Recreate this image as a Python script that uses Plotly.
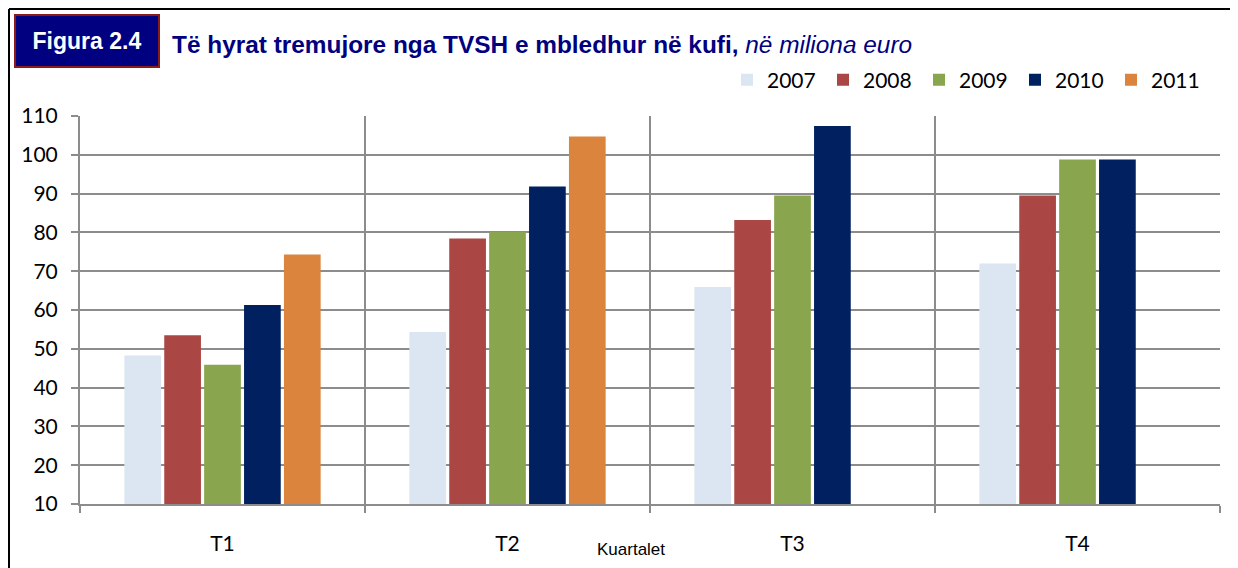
import plotly.graph_objects as go

# Quarterly VAT revenue collected at the border, million euro
quarters = ["T1", "T2", "T3", "T4"]
years = ["2007", "2008", "2009", "2010", "2011"]
values_2007 = [48.3, 54.3, 65.9, 72.0]
values_2008 = [53.5, 78.4, 83.2, 89.5]
values_2009 = [45.9, 80.1, 89.5, 98.8]
values_2010 = [61.3, 91.8, 107.4, 98.8]
values_2011 = [74.3, 104.7, None, None]
series = [values_2007, values_2008, values_2009, values_2010, values_2011]
colors = ["#DCE6F2", "#AA4643", "#89A54E", "#002060", "#DB843D"]
y_ticks = list(range(10, 111, 10))

W, H = 1238, 568
OFF = 8  # page body margin shifts the figure by this much
# wanted plot area, in screenshot pixels
PL, PR, PT, PB = 80, 1220, 116, 504
L, T = PL - OFF, PT - OFF
R, B = W - (PR - OFF), H - (PB - OFF)
PW, PH = PR - PL, PB - PT


def px(x):
    # screenshot pixel x -> paper x
    return (x - PL) / PW


def py(y):
    # screenshot pixel y -> paper y
    return (PB - y) / PH


fig = go.Figure()
for year, vals, col in zip(years, series, colors):
    fig.add_trace(go.Bar(
        x=quarters,
        y=vals,
        name=year,
        marker_color=col,
        marker_line_width=0,
    ))

fig.update_layout(
    width=W,
    height=H,
    barmode="group",
    bargap=0.30,
    bargroupgap=0.08,
    plot_bgcolor="white",
    paper_bgcolor="white",
    margin=dict(l=L, r=R, t=T, b=B, autoexpand=False),
    font=dict(family="Lato, Open Sans, sans-serif", size=21, color="#000000"),
    legend=dict(
        orientation="h",
        x=px(727),
        xanchor="left",
        y=py(80),
        yanchor="middle",
        font=dict(size=21),
        itemwidth=30,
        entrywidth=51,
        entrywidthmode="pixels",
        bgcolor="rgba(0,0,0,0)",
    ),
    xaxis=dict(
        tickson="boundaries",
        showgrid=True,
        gridcolor="#8C8C8C",
        gridwidth=2,
        ticks="outside",
        ticklen=7,
        tickwidth=2,
        tickcolor="#8C8C8C",
        showline=True,
        linecolor="#8C8C8C",
        linewidth=2,
        ticklabelstandoff=20,
        tickfont=dict(size=21),
    ),
    yaxis=dict(
        range=[10, 110],
        tickvals=y_ticks,
        showgrid=True,
        gridcolor="#8C8C8C",
        gridwidth=2,
        showline=True,
        linecolor="#8C8C8C",
        linewidth=2,
        ticks="outside",
        ticklen=7,
        tickwidth=2,
        tickcolor="#8C8C8C",
        zeroline=False,
        ticklabelstandoff=9,
        tickfont=dict(size=21),
    ),
)

# outer frame (left and top edges)
fig.add_shape(type="line", xref="paper", yref="paper",
              x0=px(9), x1=px(W + 20), y0=py(9), y1=py(9),
              line=dict(color="#000000", width=2))
fig.add_shape(type="line", xref="paper", yref="paper",
              x0=px(9), x1=px(9), y0=py(9), y1=py(H + 20),
              line=dict(color="#000000", width=2))

# figure label box
fig.add_annotation(
    xref="paper", yref="paper",
    x=px(86.5), y=py(41), xanchor="center", yanchor="middle",
    text="<b>Figura 2.4</b>",
    showarrow=False,
    font=dict(family="Liberation Sans, Arial, sans-serif", size=23, color="white"),
    bgcolor="#000080",
    bordercolor="#8B1A1A",
    borderwidth=2,
    width=140,
    height=48,
)

# title
fig.add_annotation(
    xref="paper", yref="paper",
    x=px(170), y=py(44), xanchor="left", yanchor="middle",
    text="<b>Të hyrat tremujore nga TVSH e mbledhur në kufi,</b> <i>në miliona euro</i>",
    showarrow=False,
    font=dict(family="Liberation Sans, Arial, sans-serif", size=24.4, color="#000080"),
)

# x axis title
fig.add_annotation(
    xref="paper", yref="paper",
    x=px(631), y=py(549), xanchor="center", yanchor="middle",
    text="Kuartalet",
    showarrow=False,
    font=dict(family="Liberation Sans Narrow, Liberation Sans, Arial, sans-serif", size=17, color="#000000"),
)

fig.write_html("out.html")
